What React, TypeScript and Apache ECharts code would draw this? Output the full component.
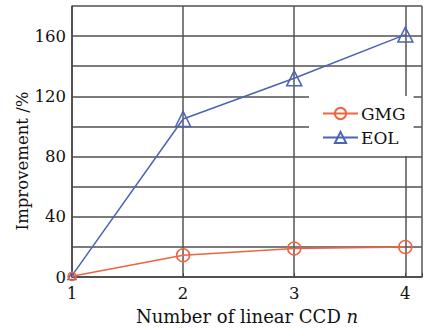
import React, { useEffect, useRef } from "react";
import * as echarts from "echarts";

const xValues = [1, 2, 3, 4];
const gmgValues = [0.5, 14.5, 19, 20];
const eolValues = [1, 105, 132, 161];
const seriesNames = ["GMG", "EOL"];
const yTickLabels = ["0", "40", "80", "120", "160"];

const FONT = "DejaVu Serif";
const GMG_COLOR = "#ef6440";
const EOL_COLOR = "#4a63b3";

export default function App() {
  const ref = useRef<HTMLDivElement>(null);
  useEffect(() => {
    if (!ref.current) return;
    const chart = echarts.init(ref.current, null, { renderer: "svg" });
    const mk = (vals: number[]) =>
      xValues.map((x, i) => (i === 0 ? { value: [x, vals[i]], symbolSize: 8 } : [x, vals[i]]));
    chart.setOption({
      animation: false,
      backgroundColor: "#ffffff",
      grid: { left: 72, right: 0, top: 6, bottom: 48 },
      legend: {
        orient: "vertical",
        left: 309,
        top: 96,
        backgroundColor: "#ffffff",
        padding: [9, 8, 10, 13],
        itemGap: 7,
        itemWidth: 35,
        itemHeight: 14,
        textStyle: { fontFamily: FONT, fontSize: 17, color: "#111", padding: [0, 0, 0, -2] },
        data: seriesNames,
      },
      graphic: [
        {
          type: "text",
          x: 22,
          y: 161,
          rotation: Math.PI / 2,
          style: {
            text: "Improvement /%",
            fontFamily: FONT,
            fontSize: 16.5,
            fill: "#111",
            align: "center",
            verticalAlign: "middle",
          },
        },
      ],
      xAxis: {
        type: "value",
        min: 1,
        max: 4.15,
        interval: 1,
        name: "Number of linear CCD {i|n}",
        nameLocation: "middle",
        nameGap: 26,
        nameTextStyle: {
          fontFamily: FONT,
          fontSize: 18,
          color: "#111",
          rich: { i: { fontFamily: FONT, fontStyle: "italic", fontSize: 18, color: "#111" } },
        },
        axisLine: { show: true, lineStyle: { color: "#444", width: 1.5 } },
        axisTick: { show: true, inside: true, length: 4, lineStyle: { color: "#444" } },
        axisLabel: {
          fontFamily: FONT,
          fontSize: 16.5,
          color: "#111",
          margin: 8,
          formatter: (v: number) => (Number.isInteger(v) ? String(v) : ""),
        },
        splitLine: { show: true, lineStyle: { color: "#555", width: 1.5 } },
      },
      yAxis: {
        type: "value",
        min: 0,
        max: 180,
        interval: 20,
        axisLine: { show: true, lineStyle: { color: "#444", width: 1.5 } },
        axisTick: { show: false },
        axisLabel: {
          fontFamily: FONT,
          fontSize: 16.5,
          color: "#111",
          margin: 6,
          formatter: (v: number) => (yTickLabels.includes(String(v)) ? String(v) : ""),
        },
        splitLine: { show: true, lineStyle: { color: "#7c7c7c", width: 1.8 } },
      },
      series: [
        {
          name: seriesNames[0],
          type: "line",
          data: mk(gmgValues),
          symbol: "circle",
          symbolSize: 13,
          lineStyle: { width: 1.5, color: GMG_COLOR },
          itemStyle: { color: "rgba(0,0,0,0)", borderColor: GMG_COLOR, borderWidth: 1.5 },
          z: 3,
        },
        {
          name: seriesNames[1],
          type: "line",
          data: mk(eolValues),
          symbol: "triangle",
          symbolSize: 15,
          lineStyle: { width: 1.5, color: EOL_COLOR },
          itemStyle: { color: "rgba(0,0,0,0)", borderColor: EOL_COLOR, borderWidth: 1.5 },
          z: 2,
        },
      ],
    });
    return () => chart.dispose();
  }, []);
  return <div ref={ref} style={{ width: 425, height: 330, position: "absolute", left: 0, top: 0 }} />;
}
